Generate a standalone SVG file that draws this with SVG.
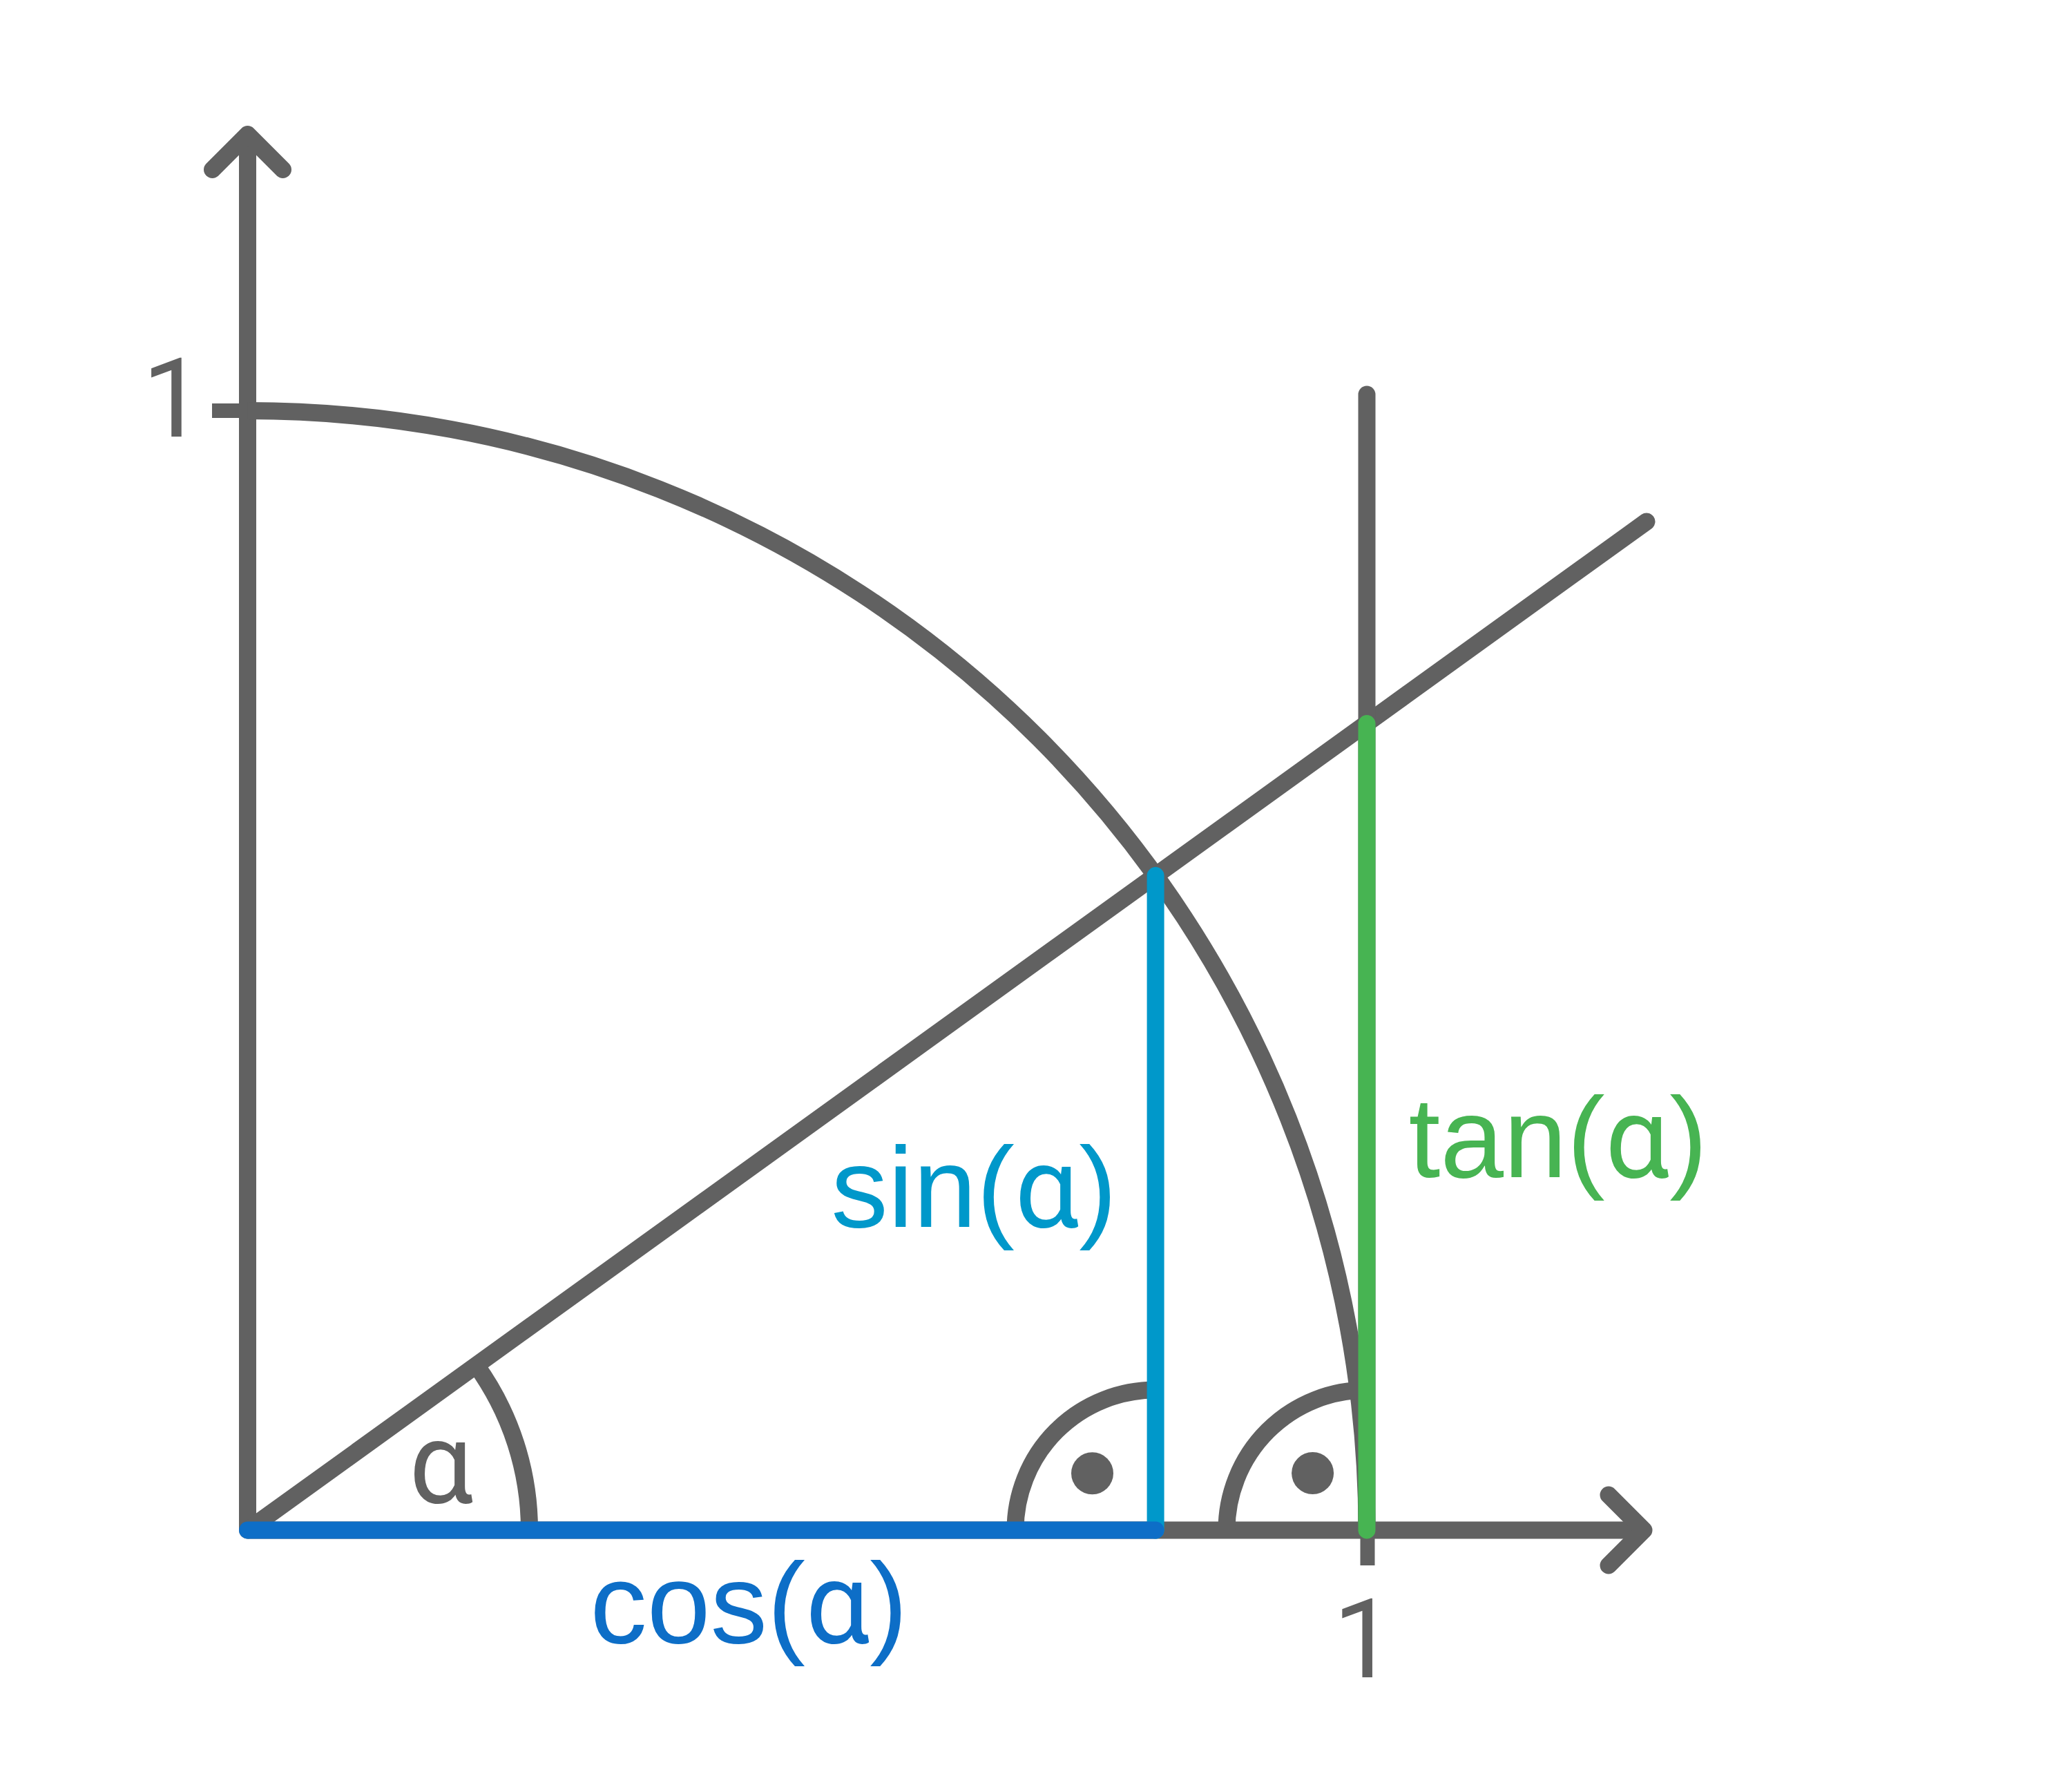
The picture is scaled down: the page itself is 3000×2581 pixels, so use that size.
<svg xmlns="http://www.w3.org/2000/svg" width="3000" height="2581" viewBox="0 0 3000 2581">
  <style>
    .g { fill: none; stroke: #616161; stroke-width: 25; }
    .rc { stroke-linecap: round; stroke-linejoin: round; }
    .tick { fill: none; stroke: #616161; stroke-width: 21; stroke-linecap: butt; }
    .dot { fill: #616161; }
  </style>
  <rect x="0" y="0" width="3000" height="2581" fill="#ffffff"/>

  <g id="axes">
    <line class="g" x1="358.5" y1="2215" x2="358.5" y2="197"/>
    <polyline class="g rc" points="307.5,245.5 358.5,194.5 409.5,245.5"/>
    <line class="g" x1="358.5" y1="2215" x2="2377" y2="2215"/>
    <polyline class="g rc" points="2329,2164 2380,2215 2329,2266"/>
    <line class="tick" x1="307" y1="594.5" x2="358.5" y2="594.5"/>
    <line class="tick" x1="1980" y1="2215" x2="1980" y2="2266"/>
  </g>

  <g id="unit-circle">
    <path class="g" d="M358.5,594.5 A1620.5,1620.5 0 0 1 1979,2215"/>
  </g>

  <g id="angle-markers">
    <path class="g" d="M766.5,2215 A408,408 0 0 0 689.5,1976.4"/>
    <path class="g" d="M1470,2215 A203,203 0 0 1 1673,2012"/>
    <circle class="dot" cx="1581.5" cy="2132.7" r="30.5"/>
    <path class="g" d="M1776,2215 A203,203 0 0 1 1979,2012"/>
    <circle class="dot" cx="1900.6" cy="2132.5" r="30.5"/>
  </g>

  <g id="ray">
    <line class="g rc" x1="358.5" y1="2215" x2="2384" y2="755"/>
  </g>

  <g id="tangent-line">
    <line class="g rc" x1="1979" y1="571" x2="1979" y2="2215"/>
  </g>

  <g id="segments">
    <line id="sin" x1="1673.1" y1="1267.5" x2="1673.1" y2="2215" stroke="#0098CA" stroke-width="25" stroke-linecap="round"/>
    <line id="cos" x1="358.5" y1="2215" x2="1673.1" y2="2215" stroke="#0D6EC7" stroke-width="25" stroke-linecap="round"/>
    <line id="tan" x1="1979" y1="1047.5" x2="1979" y2="2215" stroke="#47B452" stroke-width="25" stroke-linecap="round"/>
  </g>

  <g id="labels" font-family="Liberation Sans, sans-serif">
    <text x="205.7" y="632" font-size="160" font-family="Roboto, sans-serif" fill="#616161">1</text>
    <text x="1930" y="2428" font-size="160" font-family="Roboto, sans-serif" fill="#616161">1</text>
    <text x="592" y="2175" font-size="165" font-family="Roboto, sans-serif" fill="#616161">α</text>
    <text x="1203.2" y="1776" font-size="165" fill="#0098CA">sin(<tspan font-family="Roboto, sans-serif">α</tspan>)</text>
    <text x="2039.5" y="1704.3" font-size="165" fill="#47B452">tan(<tspan font-family="Roboto, sans-serif">α</tspan>)</text>
    <text x="854.3" y="2377.7" font-size="165" fill="#0D6EC7">cos(<tspan font-family="Roboto, sans-serif">α</tspan>)</text>
  </g>
</svg>
